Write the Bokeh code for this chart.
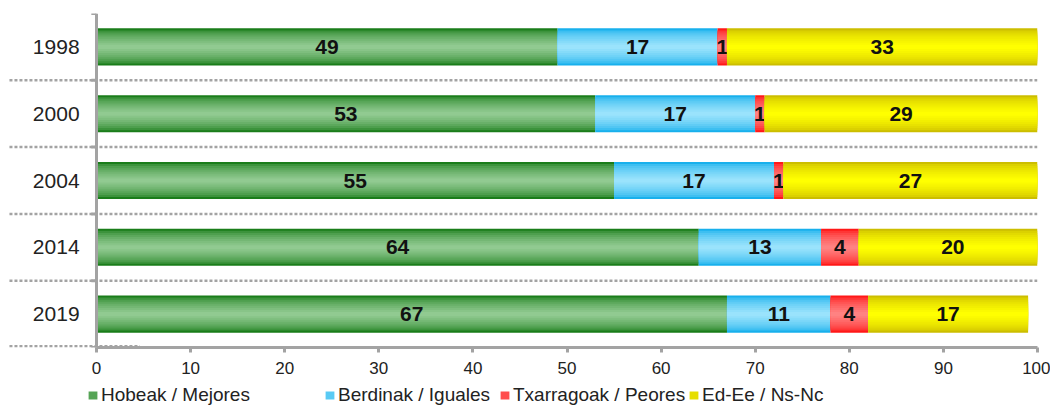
from bokeh.plotting import figure
from bokeh.layouts import column
from bokeh.models import Range1d, Legend, LegendItem, FixedTicker
from bokeh.core.properties import value
from bokeh.embed import file_html
from bokeh.resources import INLINE

# ---- data ----
years = ["1998", "2000", "2004", "2014", "2019"]
hobeak = [49, 53, 55, 64, 67]
berdinak = [17, 17, 17, 13, 11]
txarragoak = [1, 1, 1, 4, 4]
edee = [33, 29, 27, 20, 17]
series_names = ["Hobeak / Mejores", "Berdinak / Iguales", "Txarragoak / Peores", "Ed-Ee / Ns-Nc"]
x_ticks = [0, 10, 20, 30, 40, 50, 60, 70, 80, 90, 100]

# ---- styles ----
FONT = "Liberation Sans"
edge_cols = [(26, 125, 26), (24, 176, 236), (255, 24, 24), (204, 190, 0)]
center_cols = [(145, 202, 145), (154, 227, 252), (255, 130, 130), (255, 255, 0)]
AX = "#a3a3a3"

p = figure(width=1050, height=379, output_backend="svg", toolbar_location=None,
           x_range=Range1d(-96 / 9.41, 100), y_range=Range1d(0, 5),
           min_border_left=0, min_border_right=13, min_border_top=13, min_border_bottom=32)
p.outline_line_color = None
p.xgrid.visible = False
p.ygrid.visible = False
p.yaxis.visible = False

n = len(years)
ys = [n - 0.5 - i for i in range(n)]
H = 0.555

# dotted separators
sep_y = [float(k) for k in range(1, n)]
p.segment(x0=[-9.25] * len(sep_y), x1=[100] * len(sep_y), y0=sep_y, y1=sep_y,
          line_color=AX, line_width=2.5, line_dash="3 2")
p.segment(x0=[-9.25], x1=[4.6], y0=[0.02], y1=[0.02], line_color=AX, line_width=2.5, line_dash="3 2")

def mix(a, b, t):
    return "#%02x%02x%02x" % tuple(int(round(a[k] + (b[k] - a[k]) * t)) for k in range(3))

series = [hobeak, berdinak, txarragoak, edee]
lefts = [0] * n
NL = 9
for si, vals in enumerate(series):
    rights = [lefts[i] + vals[i] for i in range(n)]
    for L in range(NL):
        t = (L / (NL - 1)) ** 0.6
        h = H * (1 - L / NL)
        p.hbar(y=ys, left=lefts, right=rights, height=h,
               fill_color=mix(edge_cols[si], center_cols[si], t), line_color=None)
    p.text(x=[(lefts[i] + rights[i]) / 2 for i in range(n)], y=ys,
           text=[str(v) for v in vals], text_font=value(FONT), text_font_style="bold",
           text_font_size="21px", text_align="center", text_baseline="middle",
           text_color="#111111")
    lefts = rights

# year labels
p.text(x=[-1.8] * n, y=ys, text=years, text_font=value(FONT), text_font_size="21px",
       text_align="right", text_baseline="middle", text_color="#222222")

# y axis line and ticks
p.segment(x0=[0], x1=[0], y0=[-0.07], y1=[5], line_color=AX, line_width=3)
yt = [float(k) for k in range(0, n + 1)]
p.segment(x0=[-0.55] * len(yt), x1=[0] * len(yt), y0=yt, y1=yt, line_color=AX, line_width=3)

# x axis
xa = p.xaxis[0]
xa.bounds = (0, 100)
xa.ticker = FixedTicker(ticks=x_ticks)
xa.axis_line_color = AX
xa.axis_line_width = 3
xa.major_tick_line_color = AX
xa.major_tick_line_width = 3
xa.major_tick_in = 0
xa.major_tick_out = 5
xa.minor_tick_line_color = None
xa.major_label_text_font = FONT
xa.major_label_text_font_size = "17px"
xa.major_label_text_color = "#222222"
xa.major_label_standoff = 9

# ---- legend strip ----
lg = figure(width=1050, height=27, output_backend="svg", toolbar_location=None,
            x_range=Range1d(0, 1), y_range=Range1d(0, 1),
            min_border_left=0, min_border_right=0, min_border_top=0, min_border_bottom=0)
lg.outline_line_color = None
lg.xaxis.visible = False
lg.yaxis.visible = False
lg.xgrid.visible = False
lg.ygrid.visible = False

leg_x = [87, 324, 499, 688]
for k in range(4):
    # swatch renderer kept outside the visible range; only its legend glyph shows
    sw = lg.rect(x=[-5], y=[-5], width=1, height=1,
                 fill_color=mix(edge_cols[k], center_cols[k], 0.5), line_color=None)
    leg = Legend(items=[LegendItem(label=series_names[k], renderers=[sw])],
                 location=(leg_x[k], 0), orientation="horizontal",
                 border_line_color=None, background_fill_alpha=0,
                 padding=0, margin=0, glyph_width=11, glyph_height=10, label_standoff=3,
                 label_text_font=FONT, label_text_font_size="19px", label_text_color="#222222")
    lg.add_layout(leg)

layout = column(p, lg, spacing=0)
open("out.html", "w").write(file_html(layout, INLINE))
